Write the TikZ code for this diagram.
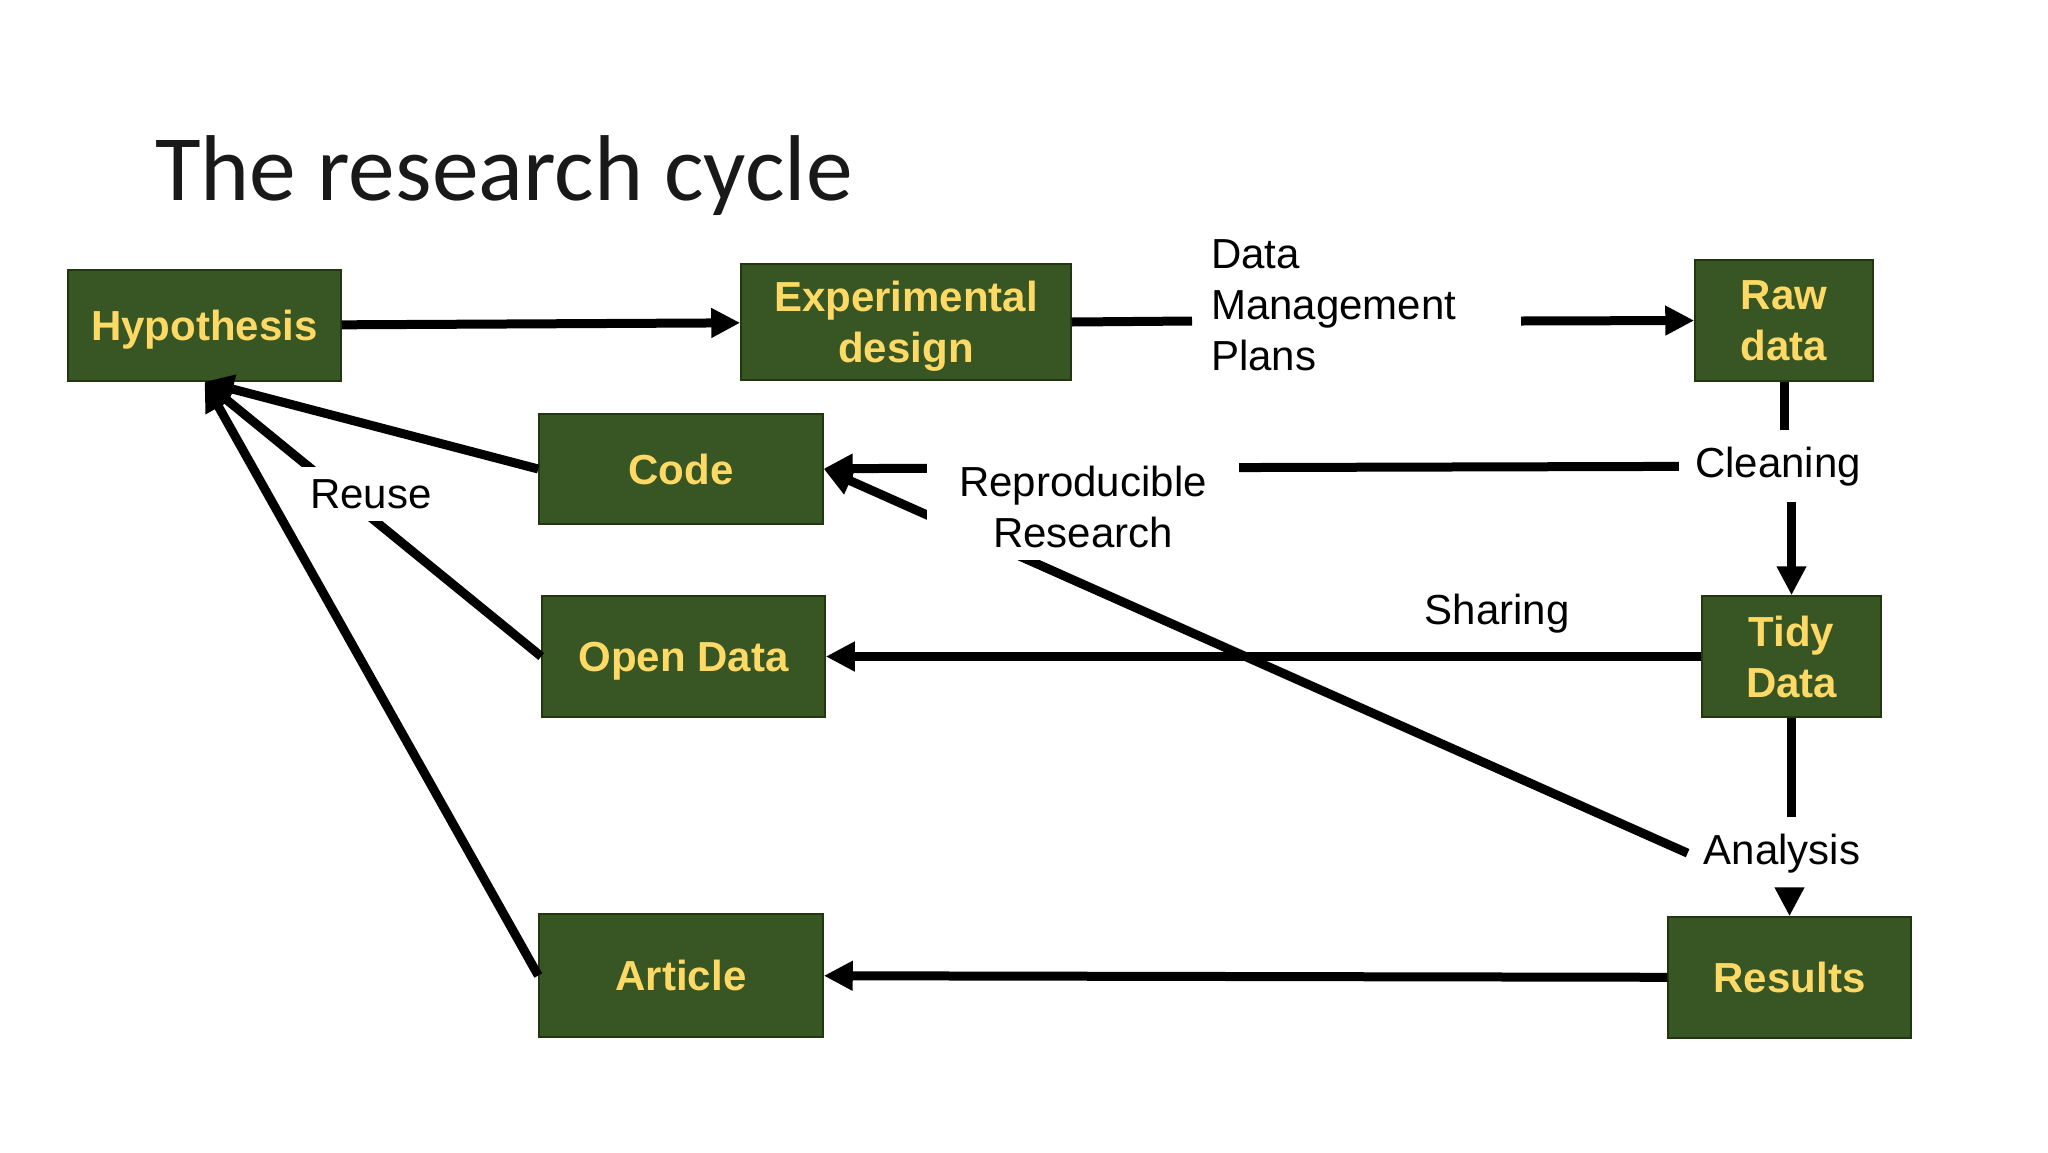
\documentclass[tikz,border=0pt]{standalone}
\usepackage{fontspec}
\setmainfont{Liberation Sans}
\newfontfamily\titlefont{Carlito}
\usetikzlibrary{arrows.meta,calc}
\definecolor{boxgreen}{HTML}{375623}
\definecolor{boxgold}{HTML}{FFD966}
\definecolor{boxedge}{HTML}{22360F}
\begin{document}
\begin{tikzpicture}[x=1pt,y=-1pt,
  box/.style={draw=boxedge, line width=1.5pt, fill=boxgreen, text=boxgold,
    font=\bfseries\fontsize{42}{51}\selectfont, align=center, inner sep=0pt, text depth=-5pt},
  lbl/.style={font=\fontsize{42}{51}\selectfont, inner sep=16pt},
  conn/.style={line width=9pt, draw=black},
  arr/.style={conn, -{Triangle[length=29pt,width=28pt]}},
]
\useasboundingbox[fill=white] (0,0) rectangle (2048,1152);

\node[anchor=base west, inner sep=0pt, text=black!90,
  font=\titlefont\fontsize{93.5}{110}\selectfont] (title) at (155,200) {The research cycle};

\node[box, minimum width=273pt, minimum height=111pt] (hyp) at (204.5,325.5) {Hypothesis};
\node[box, minimum width=330pt, minimum height=116pt] (exp) at (906,322) {Experimental\\design};
\node[box, minimum width=178pt, minimum height=121pt] (raw) at (1784,320.5) {Raw\\data};
\node[box, minimum width=284pt, minimum height=110pt] (code) at (681,469) {Code};
\node[box, minimum width=283pt, minimum height=121pt] (open) at (683.5,656.5) {Open Data};
\node[box, minimum width=179pt, minimum height=121pt] (tidy) at (1791.5,656.5) {Tidy\\Data};
\node[box, minimum width=284pt, minimum height=123pt] (art) at (681,975.5) {Article};
\node[box, minimum width=243pt, minimum height=121pt] (res) at (1789.5,977.5) {Results};

\node[lbl, inner sep=0pt, anchor=north west, align=left] (dmp) at (1211,239) {Data\\Management\\Plans};
\node[lbl, anchor=base] (clean) at (1778,477) {Cleaning};
\node[lbl, anchor=base] (ana) at (1782,864) {Analysis};
\node[lbl, anchor=base] (share) at (1497,624) {Sharing};

\coordinate (dmpL) at (1192,321);
\coordinate (dmpR) at (1521,321);

\draw[arr] (hyp) -- (exp);
\draw[conn] (exp.east) -- (dmpL);
\draw[arr] (dmpR) -- (raw.west);
\draw[conn] (raw.south) -- (raw.south |- clean.north);
\draw[arr] (tidy.north |- clean.south) -- (tidy.north);
\draw[conn] (tidy.south) -- (tidy.south |- ana.north);
\draw[arr] (res.north |- ana.south) -- (res.north);
\draw[arr] (tidy) -- (open);
\draw[arr] (res) -- (art);
\draw[arr] (clean) -- (code);
\draw[arr] (ana.west) -- (code.east);
\draw[arr] (code.west) -- (hyp.south);
\draw[arr] (open.west) -- (hyp.south);
\draw[arr] (art.west) -- (hyp.south);

\node[lbl, inner xsep=32pt, inner ysep=12pt, fill=white, align=center] (rr) at (1083,507) {Reproducible\\Research};
\node[lbl, inner sep=12pt, fill=white] (reuse) at (371,494) {Reuse};
\end{tikzpicture}
\end{document}
